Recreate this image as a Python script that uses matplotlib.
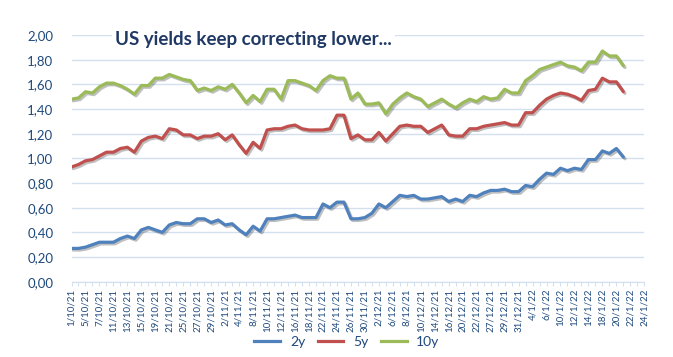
import matplotlib
matplotlib.use("Agg")
import matplotlib.pyplot as plt
import matplotlib.patheffects as pe
from matplotlib.lines import Line2D

plt.rcParams['font.family'] = ['Lato', 'DejaVu Sans']

categories = [
    "1/10/21", "4/10/21", "5/10/21", "6/10/21", "7/10/21", "8/10/21",
    "11/10/21", "12/10/21", "13/10/21", "14/10/21", "15/10/21",
    "18/10/21", "19/10/21", "20/10/21", "21/10/21", "22/10/21",
    "25/10/21", "26/10/21", "27/10/21", "28/10/21", "29/10/21",
    "1/11/21", "2/11/21", "3/11/21", "4/11/21", "5/11/21",
    "8/11/21", "9/11/21", "10/11/21", "11/11/21", "12/11/21",
    "15/11/21", "16/11/21", "17/11/21", "18/11/21", "19/11/21",
    "22/11/21", "23/11/21", "24/11/21", "25/11/21", "26/11/21",
    "29/11/21", "30/11/21",
    "1/12/21", "2/12/21", "3/12/21",
    "6/12/21", "7/12/21", "8/12/21", "9/12/21", "10/12/21",
    "13/12/21", "14/12/21", "15/12/21", "16/12/21", "17/12/21",
    "20/12/21", "21/12/21", "22/12/21", "23/12/21",
    "27/12/21", "28/12/21", "29/12/21", "30/12/21", "31/12/21",
    "3/1/22", "4/1/22", "5/1/22", "6/1/22", "7/1/22",
    "10/1/22", "11/1/22", "12/1/22", "13/1/22", "14/1/22",
    "17/1/22", "18/1/22", "19/1/22", "20/1/22", "21/1/22",
    "22/1/22", "23/1/22", "24/1/22",
]

y2 = [0.27, 0.27, 0.28, 0.30, 0.32, 0.32, 0.32, 0.35, 0.37, 0.35,
      0.42, 0.44, 0.42, 0.40, 0.46, 0.48, 0.47, 0.47, 0.51, 0.51,
      0.48, 0.50, 0.46, 0.47, 0.42, 0.38, 0.45, 0.41, 0.51, 0.51,
      0.52, 0.53, 0.54, 0.52, 0.52, 0.52, 0.63, 0.60, 0.645, 0.645,
      0.51, 0.51, 0.52, 0.555, 0.63, 0.60, 0.65, 0.70, 0.69, 0.70,
      0.67, 0.67, 0.68, 0.69, 0.65, 0.67, 0.65, 0.70, 0.69, 0.72,
      0.74, 0.74, 0.75, 0.73, 0.73, 0.78, 0.77, 0.83, 0.88, 0.87,
      0.92, 0.90, 0.92, 0.91, 0.99, 0.99, 1.06, 1.04, 1.08, 1.01]

y5 = [0.93, 0.95, 0.98, 0.99, 1.02, 1.05, 1.05, 1.08, 1.09, 1.05,
      1.14, 1.17, 1.18, 1.16, 1.24, 1.23, 1.19, 1.19, 1.16, 1.18,
      1.18, 1.20, 1.15, 1.19, 1.11, 1.04, 1.13, 1.08, 1.23, 1.24,
      1.24, 1.26, 1.27, 1.24, 1.23, 1.23, 1.23, 1.24, 1.35, 1.35,
      1.16, 1.19, 1.15, 1.15, 1.21, 1.14, 1.20, 1.26, 1.27, 1.26,
      1.26, 1.21, 1.24, 1.27, 1.19, 1.18, 1.18, 1.24, 1.24, 1.26,
      1.27, 1.28, 1.29, 1.27, 1.27, 1.37, 1.37, 1.43, 1.48, 1.51,
      1.53, 1.52, 1.50, 1.47, 1.55, 1.56, 1.65, 1.62, 1.62, 1.54]

y10 = [1.48, 1.49, 1.54, 1.53, 1.58, 1.61, 1.61, 1.59, 1.56, 1.52,
       1.59, 1.59, 1.65, 1.65, 1.68, 1.66, 1.64, 1.63, 1.55, 1.57,
       1.55, 1.58, 1.56, 1.60, 1.53, 1.45, 1.51, 1.46, 1.56, 1.56,
       1.48, 1.63, 1.63, 1.61, 1.59, 1.55, 1.63, 1.67, 1.65, 1.65,
       1.48, 1.53, 1.44, 1.44, 1.45, 1.36, 1.44, 1.49, 1.53, 1.50,
       1.48, 1.42, 1.45, 1.48, 1.44, 1.41, 1.45, 1.48, 1.46, 1.50,
       1.48, 1.49, 1.56, 1.53, 1.53, 1.63, 1.67, 1.72, 1.74, 1.76,
       1.78, 1.75, 1.74, 1.71, 1.78, 1.78, 1.87, 1.83, 1.83, 1.75]

series_names = ["2y", "5y", "10y"]
colors = ["#4F81BD", "#C0504D", "#9BBB59"]
yticks = [0.0, 0.2, 0.4, 0.6, 0.8, 1.0, 1.2, 1.4, 1.6, 1.8, 2.0]
title = "US yields keep correcting lower..."

txt_color = "#1F497D"
grid_color = "#D3E0F0"

fig = plt.figure(figsize=(6.73, 3.57), dpi=100)
ax = fig.add_axes([71.5 / 673, 1 - 281.7 / 357, (644.3 - 71.5) / 673, (281.7 - 35) / 357])

shadow = [pe.SimpleLineShadow(offset=(1.2, -1.2), alpha=0.25, shadow_color="black"), pe.Normal()]
for vals, c, n in zip([y2, y5, y10], colors, series_names):
    ax.plot(range(len(vals)), vals, color=c, lw=2.3, solid_joinstyle="round",
            solid_capstyle="round", path_effects=shadow, label=n, zorder=3)

ax.set_xlim(0, len(categories) - 1)
ax.set_ylim(0, 2.0)
ax.set_yticks(yticks)
ax.set_yticklabels([f"{v:.2f}".replace(".", ",") for v in yticks],
                   fontsize=9.5, color=txt_color)
ax.set_xticks(range(len(categories)))
ax.set_xticklabels([c if i % 2 == 0 else "" for i, c in enumerate(categories)],
                   rotation=90, fontsize=7, color=txt_color)
ax.tick_params(axis="y", length=0, pad=13)
ax.tick_params(axis="x", length=3, color=grid_color, pad=2)
ax.grid(axis="y", color=grid_color, lw=1)
ax.set_axisbelow(True)
for s in ["top", "right", "left"]:
    ax.spines[s].set_visible(False)
ax.spines["bottom"].set_color(grid_color)

fig.text(115 / 673, 1 - 39 / 357, title, fontsize=13.5, fontweight="bold",
         color="#1F3864", ha="left", va="center",
         bbox=dict(facecolor="white", edgecolor="none", pad=2))

handles = [Line2D([0], [0], color=c, lw=2.3) for c in colors]
fig.legend(handles, series_names, loc="center", bbox_to_anchor=(347 / 673, 1 - 341.5 / 357),
           ncol=3, frameon=False, fontsize=10, handlelength=1.85,
           handletextpad=0.7, columnspacing=0.9, labelcolor=txt_color)

fig.savefig("out.png", dpi=100)
